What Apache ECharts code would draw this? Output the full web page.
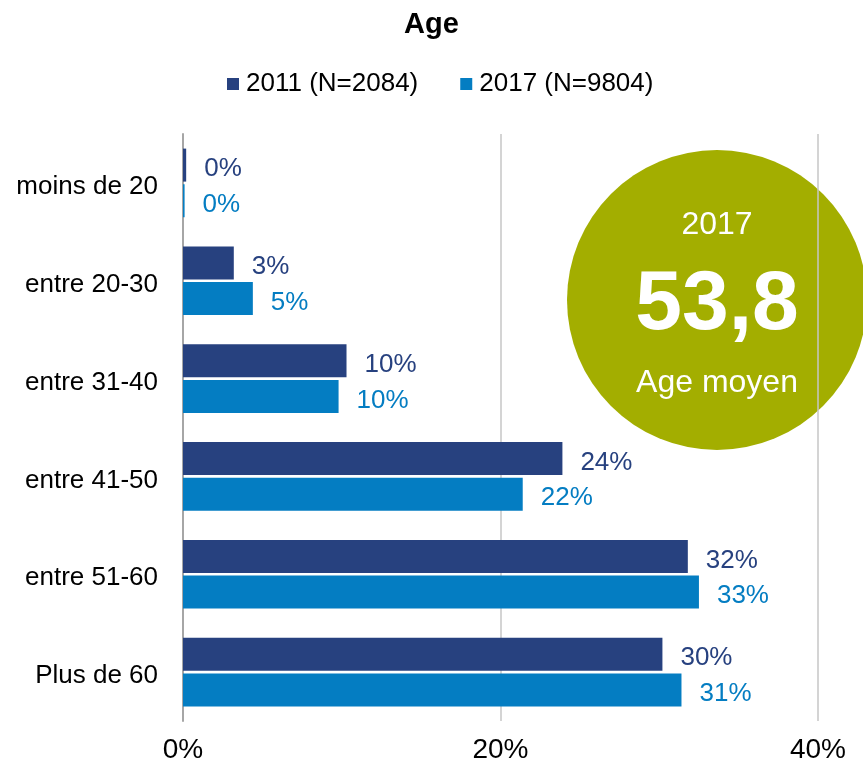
<!DOCTYPE html>
<html>
<head>
<meta charset="utf-8">
<script src="https://cdn.jsdelivr.net/npm/echarts@6/dist/echarts.min.js"></script>
<style>
	html, body { margin: 0; padding: 0; background: #ffffff; }
	#chart { width: 863px; height: 764px; }
</style>
</head>
<body>
<div id="chart"></div>
<script>
	// Age groups, top to bottom
	var categories = [ "moins de 20", "entre 20-30", "entre 31-40", "entre 41-50", "entre 51-60", "Plus de 60" ];
	var values2011 = [ 0.2, 3.2, 10.3, 23.9, 31.8, 30.2 ];
	var values2017 = [ 0.1, 4.4, 9.8, 21.4, 32.5, 31.4 ];
	var labels2011 = [ "0%", "3%", "10%", "24%", "32%", "30%" ];
	var labels2017 = [ "0%", "5%", "10%", "22%", "33%", "31%" ];
	var seriesNames = [ "2011 (N=2084)", "2017 (N=9804)" ];
	var xTicks = [ 0, 20, 40 ];

	var font = "'Liberation Sans', Arial, sans-serif";
	var navy = "#27417f";
	var blue = "#047dc2";

	function barSeries(name, values, labels, color) {
		return {
			name : name,
			type : "bar",
			data : values,
			barWidth : 33,
			barGap : "8%",
			itemStyle : {
				color : color
			},
			label : {
				show : true,
				position : "right",
				distance : 18,
				offset : [ 0, 4 ],
				color : color,
				fontFamily : font,
				fontSize : 26,
				formatter : function(p) {
					return labels[p.dataIndex];
				}
			}
		};
	}

	var chart = echarts.init(document.getElementById("chart"));
	chart.setOption({
		animation : false,
		title : {
			text : "Age",
			left : "center",
			top : 5,
			textStyle : {
				fontFamily : font,
				fontSize : 29,
				fontWeight : "bold",
				color : "#000000"
			}
		},
		legend : {
			data : seriesNames,
			top : 66,
			left : 222,
			itemWidth : 12,
			itemHeight : 12,
			itemGap : 42,
			icon : "rect",
			textStyle : {
				fontFamily : font,
				fontSize : 26,
				color : "#000000",
				padding : [ 0, 0, 0, 2 ]
			}
		},
		grid : {
			left : 183,
			right : 45,
			top : 134,
			height : 588
		},
		xAxis : {
			type : "value",
			min : xTicks[0],
			max : xTicks[xTicks.length - 1],
			interval : 20,
			axisLine : { show : false },
			axisTick : { show : false },
			splitLine : {
				lineStyle : { color : "#c6c6c6", width : 1.5 }
			},
			axisLabel : {
				margin : 15,
				fontFamily : font,
				fontSize : 28,
				color : "#000000",
				formatter : "{value}%"
			}
		},
		yAxis : {
			type : "category",
			data : categories,
			inverse : true,
			axisLine : {
				lineStyle : { color : "#a6a6a6", width : 2 }
			},
			axisTick : { show : false },
			axisLabel : {
				margin : 25,
				formatter : "{a|{value}}",
				rich : {
					a : {
						padding : [ 8, 0, 0, 0 ],
						fontFamily : font,
						fontSize : 26,
						color : "#000000"
					}
				}
			}
		},
		series : [
			barSeries(seriesNames[0], values2011, labels2011, navy),
			barSeries(seriesNames[1], values2017, labels2017, blue)
		],
		graphic : [ {
			type : "group",
			z : 100,
			children : [ {
				type : "circle",
				shape : { cx : 717, cy : 300, r : 150 },
				style : { fill : "#a3ae00" }
			}, {
				type : "text",
				x : 717, y : 225,
				style : {
					text : "2017", fill : "#ffffff", font : "32px " + font,
					textAlign : "center", textVerticalAlign : "middle"
				}
			}, {
				type : "text",
				x : 717, y : 306,
				style : {
					text : "53,8", fill : "#ffffff", font : "bold 84px " + font,
					textAlign : "center", textVerticalAlign : "middle"
				}
			}, {
				type : "text",
				x : 717, y : 383,
				style : {
					text : "Age moyen", fill : "#ffffff", font : "32px " + font,
					textAlign : "center", textVerticalAlign : "middle"
				}
			} ]
		} ]
	});
</script>
</body>
</html>
